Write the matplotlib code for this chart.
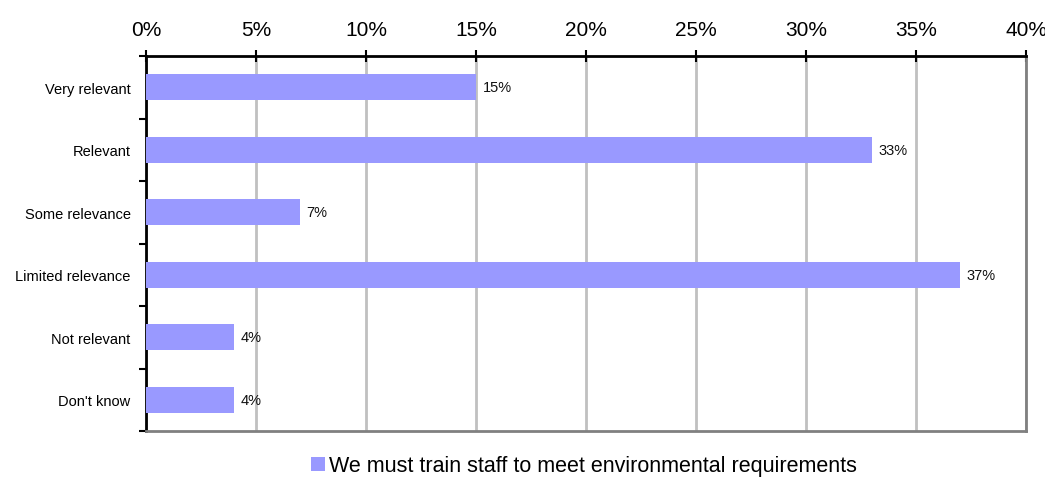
import matplotlib
matplotlib.use("Agg")
import matplotlib.pyplot as plt
from matplotlib.patches import Patch

categories = ["Very relevant", "Relevant", "Some relevance", "Limited relevance", "Not relevant", "Don't know"]
values = [15, 33, 7, 37, 4, 4]
xticks = [0, 5, 10, 15, 20, 25, 30, 35, 40]
xtick_labels = ["0%", "5%", "10%", "15%", "20%", "25%", "30%", "35%", "40%"]
series_name = "We must train staff to meet environmental requirements"

plt.rcParams['font.family'] = ['Liberation Sans', 'DejaVu Sans']

fig = plt.figure(figsize=(10.45, 4.81), dpi=100)
ax = fig.add_axes([146/1045, 1-432/481, (1026-146)/1045, (432-57)/481])

bar_color = "#9999FF"
n = len(categories)
ypos = list(range(n))
ax.barh(ypos, values, height=0.42, color=bar_color, zorder=3)
for y, v in zip(ypos, values):
    ax.text(v + 0.3, y, f"{v}%", va="center", ha="left", fontsize=10.5, color="#111111", zorder=4)

ax.set_xlim(0, 40)
ax.set_ylim(n - 0.5, -0.5)

ax.xaxis.tick_top()
ax.set_xticks(xticks)
ax.set_xticklabels(xtick_labels, fontsize=15)
ax.tick_params(axis='x', direction='inout', length=8, width=1.5, color='black', pad=8)

ax.set_yticks(ypos)
ax.set_yticklabels(categories, fontsize=10.5)
ax.tick_params(axis='y', which='major', length=0, pad=11)
ax.set_yticks([i - 0.5 for i in range(n + 1)], minor=True)
ax.tick_params(axis='y', which='minor', direction='out', length=5, width=1.5, color='black')

ax.grid(axis='x', color='#C0C0C0', linewidth=2, zorder=0)
ax.set_axisbelow(True)

ax.spines['top'].set_color('black')
ax.spines['top'].set_linewidth(2)
ax.spines['left'].set_color('black')
ax.spines['left'].set_linewidth(2)
ax.spines['right'].set_color('#808080')
ax.spines['right'].set_linewidth(2)
ax.spines['bottom'].set_color('#808080')
ax.spines['bottom'].set_linewidth(2)

handles = [Patch(facecolor=bar_color, edgecolor='none', label=series_name)]
fig.legend(handles=handles, loc='center', bbox_to_anchor=(584/1045, 1-467/481),
           frameon=False, fontsize=15.5, handlelength=0.65, handleheight=0.65, handletextpad=0.2)

fig.savefig("out.png", dpi=100)
